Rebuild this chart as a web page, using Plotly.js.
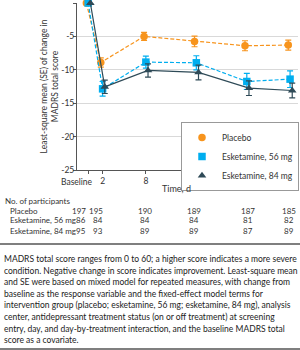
<!DOCTYPE html>
<html>
<head>
<meta charset="utf-8">
<script src="https://cdn.plot.ly/plotly-3.0.1.min.js"></script>
<style>
  html, body { margin: 0; padding: 0; background: #fff; }
  #chart { width: 300px; height: 350px; }
</style>
</head>
<body>
<div id="chart"></div>
<script>
// Study days (Baseline = day 0)
const days = [0, 2, 8, 15, 22, 28];
const dayLabels = ["Baseline", "2", "8", "15", "22", "28"];

// Least-square mean change in MADRS total score, with SE
const placeboMean = [0, -8.9, -5.0, -5.75, -6.4, -6.3];
const placeboSE   = [0, 0.7, 0.6, 0.8, 0.75, 0.75];
const esk56Mean   = [0, -12.85, -8.85, -8.95, -11.75, -11.4];
const esk56SE     = [0, 1.1, 0.9, 1.05, 1.2, 1.25];
const esk84Mean   = [0, -12.55, -10.1, -10.4, -12.75, -13.1];
const esk84SE     = [0, 1.0, 1.0, 1.1, 1.1, 1.1];

// Number of participants at each visit
const nPlacebo = [197, 195, 190, 189, 187, 185];
const nEsk56   = [86, 84, 84, 84, 81, 82];
const nEsk84   = [95, 93, 89, 89, 87, 89];

const groupNames = ["Placebo", "Esketamine, 56 mg", "Esketamine, 84 mg"];

const yTicks = [0, -5, -10, -15, -20, -25];
const yTickText = ["0", "-5", "-10", "-15", "-20", "-25"];

const FONT = "Lato, Roboto, sans-serif";
const TEXT = "#333333";

// Plot area in page pixels
const L = 77, R = 298, T = 3, B = 170, W = 300, H = 350;
const px = x => (x - L) / (R - L);
const py = y => (B - y) / (B - T);

// small horizontal dodge so overlapping markers stay visible
const dodge = (xs, d) => xs.map(v => v + d);

const styles = [
  { color: "#f7941d", symbol: "circle", dash: "4px,2px", d: -0.25 },
  { color: "#00aeef", symbol: "square", dash: "4px,2px", d: 0 },
  { color: "#2e4a57", symbol: "triangle-up", dash: "solid", d: 0.3 }
];
const means = [placeboMean, esk56Mean, esk84Mean];
const ses = [placeboSE, esk56SE, esk84SE];

const traces = [];
means.forEach((m, i) => {
  const s = styles[i];
  traces.push({
    type: "scatter", mode: "lines+markers", name: groupNames[i], showlegend: false,
    x: dodge(days, s.d), y: m,
    line: { color: s.color, width: 1.2, dash: s.dash },
    marker: { color: s.color, symbol: s.symbol, size: 7.5 },
    error_y: { type: "data", array: ses[i], visible: true, color: s.color, thickness: 1.2, width: 3 },
    cliponaxis: false
  });
});
// legend entries show the marker only
means.forEach((m, i) => {
  const s = styles[i];
  traces.push({
    type: "scatter", mode: "markers", name: groupNames[i], x: [null], y: [null],
    marker: { color: s.color, symbol: s.symbol, size: 7.5 }
  });
});

const ann = [];
const tfont = { family: FONT, size: 8.5, color: TEXT };
const rowFont = { family: FONT, size: 8, color: TEXT };

// "Baseline" label sits left of its tick so it clears the day-2 label
ann.push({ xref: "x", yref: "paper", x: days[0], y: 0, yshift: -5, xanchor: "right", yanchor: "top",
  xshift: 7, text: dayLabels[0], showarrow: false, font: tfont });

// x-axis title
ann.push({ xref: "paper", yref: "paper", x: px(176), y: py(189), xanchor: "center", yanchor: "middle",
  text: "Time, d", showarrow: false, font: { family: FONT, size: 9, color: TEXT } });

// participants table
ann.push({ xref: "paper", yref: "paper", x: px(3), y: py(201), xanchor: "left", yanchor: "middle",
  text: "No. of participants", showarrow: false, font: rowFont });
const rows = [[groupNames[0], nPlacebo, 210.5], [groupNames[1], nEsk56, 220.5], [groupNames[2], nEsk84, 230.5]];
const colAnchor = ["right", "right", "center", "center", "center", "center"];
const colShift = [0, 2, -1, -2, 1, -1];
rows.forEach(([label, counts, yy]) => {
  ann.push({ xref: "paper", yref: "paper", x: px(8), y: py(yy), xanchor: "left", yanchor: "middle",
    text: label, showarrow: false, font: rowFont });
  counts.forEach((c, i) => {
    ann.push({ xref: "x", yref: "paper", x: days[i], y: py(yy), xanchor: colAnchor[i], yanchor: "middle",
      xshift: colShift[i], text: String(c), showarrow: false, font: rowFont });
  });
});

// footnote
const note = [
  "MADRS total score ranges from 0 to 60; a higher score indicates a more severe",
  "condition. Negative change in score indicates improvement. Least-square mean",
  "and SE were based on mixed model for repeated measures, with change from",
  "baseline as the response variable and the fixed-effect model terms for",
  "intervention group (placebo; esketamine, 56 mg; esketamine, 84 mg), analysis",
  "center, antidepressant treatment status (on or off treatment) at screening",
  "entry, day, and day-by-treatment interaction, and the baseline MADRS total",
  "score as a covariate."
];
note.forEach((line, i) => {
  ann.push({ xref: "paper", yref: "paper", x: px(2), y: py(259 + i * 11.6), xanchor: "left", yanchor: "middle",
    text: line, showarrow: false, font: { family: FONT, size: 8.5, color: "#222" } });
});

const layout = {
  width: W, height: H,
  margin: { l: L, r: W - R, t: T, b: H - B, pad: 0, autoexpand: false },
  paper_bgcolor: "#fff", plot_bgcolor: "#fff",
  font: { family: FONT, size: 8.5, color: TEXT },
  showlegend: true,
  legend: {
    x: px(181), y: py(122), xanchor: "left", yanchor: "top",
    bgcolor: "#fff", bordercolor: "#999", borderwidth: 1,
    font: { family: FONT, size: 8.5, color: TEXT }, itemwidth: 30, tracegroupgap: 0
  },
  xaxis: {
    range: [-1.55, 29.1], tickvals: days, ticktext: ["", ...dayLabels.slice(1)], tickangle: 0,
    showgrid: false, zeroline: false, showline: true, linecolor: "#555", linewidth: 1,
    ticks: "outside", ticklen: 3, tickcolor: "#555",
    tickfont: tfont
  },
  yaxis: {
    range: [-25, 0], tickvals: yTicks, ticktext: yTickText,
    showgrid: true, gridcolor: "#d9d9d9", gridwidth: 1, zeroline: false,
    showline: true, linecolor: "#555", linewidth: 1,
    ticks: "outside", ticklen: 3, tickcolor: "#555", ticklabelstandoff: -3,
    tickfont: tfont,
    title: { text: "Least-square mean (SE) of change in<br>MADRS total score", font: { family: FONT, size: 8.5, color: TEXT }, standoff: 1 }
  },
  annotations: ann,
  shapes: [
    { type: "line", xref: "paper", yref: "paper", x0: px(0), x1: px(300), y0: py(244), y1: py(244), line: { color: "#555", width: 1.5 } },
    { type: "line", xref: "paper", yref: "paper", x0: px(0), x1: px(300), y0: py(349), y1: py(349), line: { color: "#555", width: 1.5 } }
  ]
};

Plotly.newPlot("chart", traces, layout, { displayModeBar: false, staticPlot: true });
</script>
</body>
</html>
